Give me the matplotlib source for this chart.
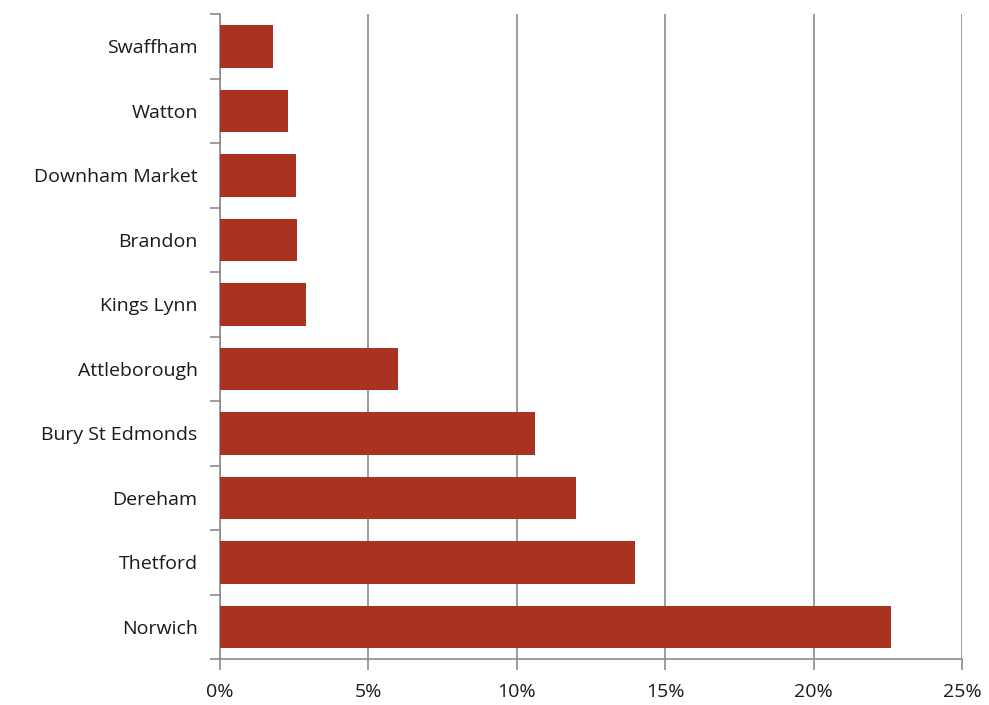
import matplotlib.pyplot as plt
from matplotlib.ticker import FuncFormatter, FixedLocator

towns = ["Norwich", "Thetford", "Dereham", "Bury St Edmonds", "Attleborough",
         "Kings Lynn", "Brandon", "Downham Market", "Watton", "Swaffham"]
share = [22.6, 14.0, 12.0, 10.6, 6.0, 2.9, 2.6, 2.55, 2.3, 1.8]

plt.rcParams['font.family'] = ['Open Sans', 'DejaVu Sans']

fig = plt.figure(figsize=(9.89, 7.05), dpi=100)
ax = fig.add_axes([0.2224, 0.0652, 0.7503, 0.9148])

ax.barh(range(len(towns)), share, height=0.66, color="#a93220", zorder=3)

ax.set_xlim(0, 25)
ax.set_ylim(-0.5, len(towns) - 0.5)
ax.set_xticks([0, 5, 10, 15, 20, 25])
ax.xaxis.set_major_formatter(FuncFormatter(lambda v, p: f"{v:.0f}%"))
ax.grid(axis="x", color="#8c8c8c", linewidth=1.2, zorder=0)

# labels centred on bars, ticks between categories
ax.set_yticks(range(len(towns)))
ax.set_yticklabels(towns)
ax.yaxis.set_minor_locator(FixedLocator([i - 0.5 for i in range(len(towns) + 1)]))
ax.tick_params(axis="y", which="major", length=0, pad=16)
ax.tick_params(axis="y", which="minor", length=7, width=1.2, color="#8c8c8c")
ax.tick_params(axis="x", length=8, width=1.2, color="#8c8c8c", pad=9)
ax.tick_params(labelsize=14, labelcolor="#1a1a1a")

for side in ["top", "right"]:
    ax.spines[side].set_visible(False)
for side in ["left", "bottom"]:
    ax.spines[side].set_color("#8c8c8c")
    ax.spines[side].set_linewidth(1.2)

fig.savefig("out.png")
